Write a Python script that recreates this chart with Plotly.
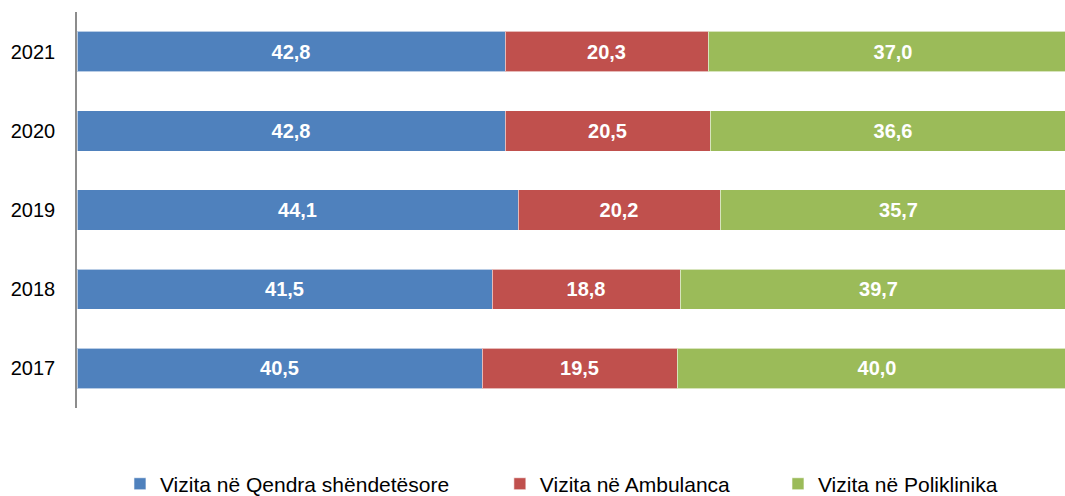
import plotly.graph_objects as go

years = ["2017", "2018", "2019", "2020", "2021"]
qendra = [40.5, 41.5, 44.1, 42.8, 42.8]
ambulanca = [19.5, 18.8, 20.2, 20.5, 20.3]
poliklinika = [40.0, 39.7, 35.7, 36.6, 37.0]

series_names = ["Vizita në Qendra shëndetësore", "Vizita në Ambulanca", "Vizita në Poliklinika"]
series_values = [qendra, ambulanca, poliklinika]
series_colors = ["#4F81BD", "#C0504D", "#9BBB59"]
legend_ids = ["legend", "legend2", "legend3"]
legend_x = [0.0435, 0.428, 0.7095]

FONT = "Arial, 'Liberation Sans', sans-serif"

fig = go.Figure()
for name, vals, color, lid in zip(series_names, series_values, series_colors, legend_ids):
    fig.add_trace(go.Bar(
        y=years, x=vals, name=name, orientation="h", legend=lid,
        marker=dict(color=color, line=dict(color="rgba(255,255,255,0.6)", width=1)),
        texttemplate="<b>%{x:.1f}</b>", textposition="inside",
        insidetextanchor="middle",
        textfont=dict(color="white", size=20, family=FONT),
        hoverinfo="skip",
    ))

legend_common = dict(
    orientation="h", xanchor="left", yref="container", y=0.024, yanchor="middle",
    font=dict(size=21, color="black", family=FONT),
    itemwidth=30, bgcolor="rgba(0,0,0,0)",
)

fig.update_layout(
    barmode="stack",
    bargap=0.49,
    width=1065, height=496,
    margin=dict(l=77, r=0, t=12, b=88),
    paper_bgcolor="white", plot_bgcolor="white",
    separators=",.",
    showlegend=True,
    legend=dict(x=legend_x[0], **legend_common),
    legend2=dict(x=legend_x[1], **legend_common),
    legend3=dict(x=legend_x[2], **legend_common),
    xaxis=dict(range=[0, 98.8], visible=False, fixedrange=True),
    yaxis=dict(
        type="category", showgrid=False, zeroline=False,
        showline=True, linecolor="#8C8C8C", linewidth=1.5,
        ticks="", ticklabelstandoff=16, fixedrange=True,
        tickfont=dict(size=20, color="black", family=FONT),
    ),
)

fig.write_html(
    "out.html",
    config={"displayModeBar": False},
    post_script="document.body.style.margin='0';document.body.style.overflow='hidden';",
)
